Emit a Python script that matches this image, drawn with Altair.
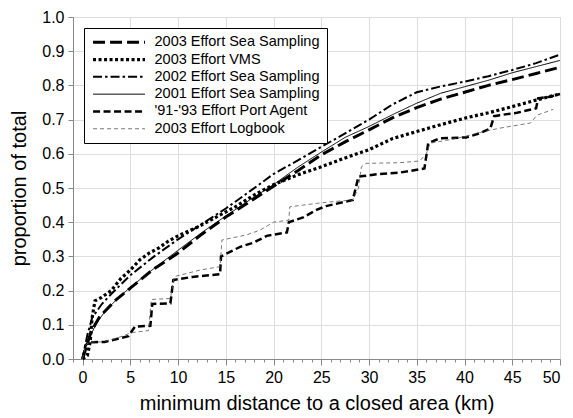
import altair as alt
import pandas as pd

# ---- data ----
series_names = [
    "2003 Effort Sea Sampling",
    "2003 Effort VMS",
    "2002 Effort Sea Sampling",
    "2001 Effort Sea Sampling",
    "'91-'93 Effort Port Agent",
    "2003 Effort Logbook",
]

sea2003_x = [0, 0.4, 0.9, 1.8, 3.5, 5, 7.3, 10, 12.5, 15, 17.5, 20, 22.5, 25, 27.5, 30, 32.5, 35, 37.5, 40, 42.5, 45, 47.5, 50]
sea2003_y = [0, 0.036, 0.08, 0.124, 0.173, 0.207, 0.26, 0.31, 0.365, 0.415, 0.46, 0.505, 0.55, 0.597, 0.635, 0.67, 0.706, 0.735, 0.76, 0.78, 0.80, 0.817, 0.835, 0.853]

vms_x = [0, 0.5, 0.8, 1.0, 1.3, 2, 3, 4, 5, 6, 7, 8, 9, 10, 12, 14, 16, 18, 20, 22.5, 25, 27.5, 30, 32.5, 35, 37.5, 40, 42.5, 45, 47.5, 50]
vms_y = [0, 0.01, 0.05, 0.12, 0.17, 0.18, 0.20, 0.235, 0.26, 0.29, 0.31, 0.325, 0.345, 0.36, 0.385, 0.415, 0.445, 0.48, 0.51, 0.538, 0.562, 0.588, 0.612, 0.645, 0.665, 0.685, 0.704, 0.72, 0.738, 0.757, 0.775]

sea2002_x = [0, 0.5, 1, 2, 3, 5, 7.5, 10, 12.5, 15, 17.5, 20, 22.5, 25, 27.5, 30, 32.5, 35, 37.5, 40, 42.5, 45, 47.5, 50]
sea2002_y = [0, 0.07, 0.12, 0.16, 0.19, 0.245, 0.30, 0.35, 0.395, 0.44, 0.49, 0.541, 0.58, 0.62, 0.66, 0.70, 0.745, 0.78, 0.797, 0.811, 0.827, 0.845, 0.865, 0.89]

sea2001_x = [0, 0.5, 1.45, 2.5, 3.9, 5, 7.5, 10, 12.5, 15, 17.5, 20, 22.5, 25, 27.5, 30, 32.5, 35, 37.5, 40, 42.5, 45, 47.5, 50]
sea2001_y = [0, 0.05, 0.104, 0.145, 0.182, 0.21, 0.265, 0.318, 0.37, 0.418, 0.465, 0.51, 0.56, 0.605, 0.648, 0.68, 0.715, 0.748, 0.777, 0.796, 0.815, 0.837, 0.855, 0.873]

port_x = [0, 0.3, 0.7, 1.1, 2.3, 3.4, 4.8, 5.5, 7.1, 7.3, 9.2, 9.5, 11.5, 14.4, 14.5, 16.5, 17.9, 19.3, 21.4, 21.6, 23.1, 24.5, 25.5, 28.3, 28.9, 29.4, 31.1, 33.2, 34.3, 35.8, 36.2, 37.4, 40.2, 41.6, 42.7, 43.1, 43.7, 45.5, 47.5, 47.7, 49.0, 50]
port_y = [0, 0.04, 0.05, 0.049, 0.05, 0.057, 0.067, 0.095, 0.097, 0.161, 0.163, 0.231, 0.24, 0.248, 0.30, 0.328, 0.34, 0.36, 0.37, 0.40, 0.414, 0.436, 0.447, 0.465, 0.533, 0.535, 0.541, 0.545, 0.55, 0.557, 0.631, 0.645, 0.648, 0.66, 0.674, 0.71, 0.713, 0.72, 0.733, 0.762, 0.767, 0.775]

log_x = [0, 0.3, 0.7, 2, 3.5, 5.1, 6.9, 7.2, 9.2, 9.6, 12.3, 14.4, 14.6, 17.2, 18.6, 20, 21.6, 21.7, 23.1, 24.5, 26.2, 28.3, 28.9, 29.2, 29.7, 33.2, 35.3, 36.0, 36.4, 39.2, 42, 43.7, 46.9, 47.6, 49.3]
log_y = [0, 0.04, 0.05, 0.05, 0.06, 0.077, 0.083, 0.174, 0.177, 0.241, 0.26, 0.27, 0.348, 0.363, 0.377, 0.40, 0.406, 0.445, 0.45, 0.455, 0.46, 0.465, 0.50, 0.562, 0.572, 0.574, 0.579, 0.60, 0.631, 0.645, 0.665, 0.675, 0.69, 0.713, 0.73]

x_ticks = list(range(-1, 51))
y_ticks = [0.0, 0.1, 0.2, 0.3, 0.4, 0.5, 0.6, 0.7, 0.8, 0.9, 1.0]

# ---- styles ----
dashes = [[12, 5], [3, 2.5], [9, 3, 2.5, 3], [1, 0], [7, 3.5], [4, 3]]
widths = [3, 3.2, 2, 1, 2.5, 0.8]
colors = ["black", "black", "black", "black", "black", "#555555"]

all_series = [
    (sea2003_x, sea2003_y), (vms_x, vms_y), (sea2002_x, sea2002_y),
    (sea2001_x, sea2001_y), (port_x, port_y), (log_x, log_y),
]
rows = []
for name, (xs, ys) in zip(series_names, all_series):
    for i, (xv, yv) in enumerate(zip(xs, ys)):
        rows.append({"series": name, "x": xv, "y": yv, "order": i})
df = pd.DataFrame(rows)

FONT = "Liberation Sans"
major = "datum.value % 5 === 0 && datum.value >= 0"

legend = alt.Legend(
    title=None, orient="top-left", offset=11, fillColor="white",
    strokeColor="black", padding=7, labelFontSize=14.5, labelFont=FONT,
    labelColor="black", labelLimit=400,
    symbolType="M-1,0H9", symbolSize=108,
    labelOffset=49, rowPadding=2.3,
)

chart = alt.Chart(df).mark_line(strokeCap="butt").encode(
    x=alt.X("x:Q", scale=alt.Scale(domain=[-1, 50], nice=False, zero=False),
            axis=alt.Axis(
                values=x_ticks, title="minimum distance to a closed area (km)",
                labelExpr=f"({major}) ? datum.label : ''",
                grid=True,
                gridOpacity={"condition": {"test": f"{major} && datum.value > 0 && datum.value < 50", "value": 1}, "value": 0},
                tickSize={"condition": {"test": major, "value": 6}, "value": 3},
                labelPadding=4, titlePadding=8, labelFontSize=16,
                titleFontSize=20, titleFontWeight=400)),
    y=alt.Y("y:Q", scale=alt.Scale(domain=[0, 1], nice=False),
            axis=alt.Axis(
                values=y_ticks, format=".1f", title="proportion of total",
                grid=True, tickSize=5, labelPadding=4, titlePadding=12,
                labelFontSize=16, titleFontSize=20, titleFontWeight=400)),
    color=alt.Color("series:N", sort=series_names,
                    scale=alt.Scale(domain=series_names, range=colors), legend=legend),
    strokeDash=alt.StrokeDash("series:N", sort=series_names,
                              scale=alt.Scale(domain=series_names, range=dashes), legend=legend),
    strokeWidth=alt.StrokeWidth("series:N", sort=series_names,
                                scale=alt.Scale(type="ordinal", domain=series_names, range=widths),
                                legend=legend),
    order=alt.Order("order:Q"),
).properties(
    width=487, height=342,
    padding={"left": 73, "top": 17, "right": 13, "bottom": 59},
    autosize=alt.AutoSizeParams(type="none"),
).configure_view(stroke="black", strokeWidth=1).configure_axis(
    labelFont=FONT, titleFont=FONT, labelColor="black", titleColor="black",
    domainColor="black", tickColor="black",
    gridColor="#555555", gridDash=[1, 2], gridWidth=1,
).configure(background="white")

chart.save("out.html", embed_options={"renderer": "svg", "actions": False})
